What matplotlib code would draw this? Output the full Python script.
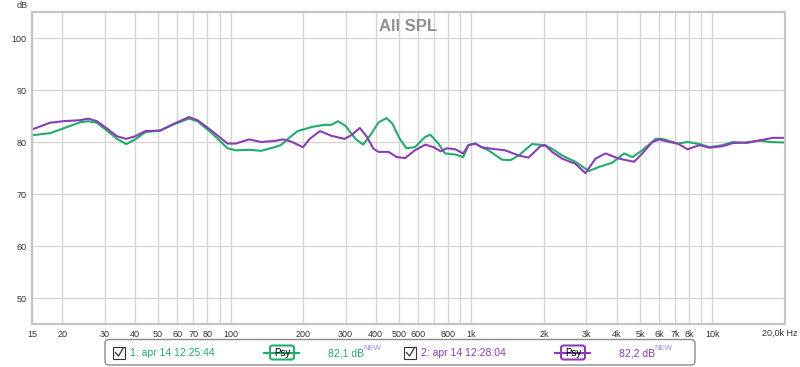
import matplotlib
matplotlib.use("Agg")
import matplotlib.pyplot as plt
from matplotlib.patches import FancyBboxPatch, Rectangle

plt.rcParams['font.family'] = ['Liberation Sans', 'DejaVu Sans']

# measurement 1 (green)
freq1 = [15, 17.8, 20.2, 23.8, 25.7, 27.9, 30.7, 33.8, 36.9, 40.2, 44.3, 51, 58.2,
         67.2, 72.9, 82.7, 97.2, 105, 119.5, 134, 152, 162, 173, 190, 218, 245, 262,
         279, 300, 330, 355, 380, 412, 444, 470, 504, 537, 582, 643, 675, 729, 776,
         856, 924, 971, 1038, 1101, 1177, 1337, 1449, 1570, 1783, 1995, 2159, 2377,
         2700, 3069, 3377, 3838, 4296, 4651, 5117, 5818, 6207, 6624, 7170, 7891, 8829,
         9715, 11040, 12150, 13800, 15700, 17270, 20000]
spl1 = [81.3, 81.7, 82.6, 83.8, 84.0, 83.7, 82.2, 80.6, 79.6, 80.5, 81.9, 82.2, 83.4,
        84.5, 84.0, 81.9, 78.8, 78.4, 78.5, 78.3, 79.0, 79.4, 80.6, 82.1, 82.9, 83.3,
        83.3, 84.0, 83.1, 80.6, 79.5, 81.3, 83.8, 84.6, 83.5, 80.6, 78.8, 79.0, 81.0,
        81.4, 79.7, 77.8, 77.6, 77.1, 79.4, 79.7, 79.0, 78.4, 76.6, 76.5, 77.4, 79.6,
        79.4, 78.7, 77.4, 76.2, 74.4, 75.2, 76.0, 77.8, 77.1, 78.4, 80.6, 80.6, 80.2,
        79.7, 80.0, 79.6, 79.0, 79.4, 80.0, 79.8, 80.3, 80.0, 79.9]

# measurement 2 (purple)
freq2 = [15, 17.8, 20.2, 23.8, 25.7, 27.9, 30.7, 33.8, 36.9, 40.2, 44.3, 51, 58.2,
         67.2, 72.9, 82.7, 97.2, 105, 119.5, 134, 152, 165, 178, 200, 213, 235, 262,
         297, 317, 344, 368, 392, 412, 453, 490, 530, 582, 643, 696, 746, 790, 856,
         924, 971, 1038, 1101, 1215, 1380, 1570, 1726, 1932, 2026, 2159, 2377, 2700,
         2973, 3270, 3600, 4092, 4726, 5117, 5634, 6010, 6624, 7170, 7891, 8829, 9715,
         11040, 12150, 13800, 15700, 17800, 20000]
spl2 = [82.4, 83.7, 84.0, 84.2, 84.5, 84.0, 82.6, 81.1, 80.6, 81.1, 82.1, 82.2, 83.5,
        84.8, 84.2, 82.3, 79.7, 79.7, 80.5, 80.0, 80.2, 80.5, 80.1, 79.0, 80.6, 82.1,
        81.2, 80.6, 81.3, 82.7, 81.0, 78.7, 78.1, 78.1, 77.1, 76.9, 78.4, 79.5, 79.0,
        78.2, 78.8, 78.6, 77.8, 79.4, 79.7, 79.0, 78.7, 78.4, 77.4, 77.0, 79.2, 79.4,
        78.1, 76.8, 75.8, 74.0, 76.8, 77.8, 76.8, 76.2, 77.8, 80.0, 80.5, 80.0, 79.7,
        78.6, 79.4, 78.9, 79.2, 79.8, 79.9, 80.3, 80.8, 80.8]

grid_freqs = [20, 30, 40, 50, 60, 70, 80, 90, 100, 200, 300, 400, 500, 600, 700, 800,
              900, 1000, 2000, 3000, 4000, 5000, 6000, 7000, 8000, 9000, 10000]
grid_labels = ['20', '30', '40', '50', '60', '70', '80', '', '100', '200', '300', '400',
               '500', '600', '', '800', '', '1k', '2k', '3k', '4k', '5k', '6k', '7k',
               '8k', '', '10k']
db_ticks = [50, 60, 70, 80, 90, 100]

green = '#1fae6b'
purple = '#8a3db6'

fig = plt.figure(figsize=(8, 3.67), dpi=100)
ax = fig.add_axes([32 / 800, 1 - 324 / 367, 753 / 800, 312 / 367])
ax.set_xscale('log')
ax.set_xlim(15, 20000)
ax.set_ylim(45, 105)

ax.set_xticks(grid_freqs + [15])
ax.set_xticklabels(grid_labels + ['15'])
ax.xaxis.set_minor_locator(plt.NullLocator())
ax.set_yticks(db_ticks)
ax.tick_params(length=0, labelsize=6.5, colors='#333333', pad=4)
ax.grid(True, color='#d6d6d6', linewidth=1)
ax.set_axisbelow(True)
for s in ax.spines.values():
    s.set_color('#c4c4c4')
    s.set_linewidth(1.6)

ax.plot(freq1, spl1, color=green, linewidth=1.5, solid_joinstyle='round')
ax.plot(freq2, spl2, color=purple, linewidth=1.5, solid_joinstyle='round')

ax.text(0.5, 0.955, 'All SPL', transform=ax.transAxes, ha='center', va='center',
        fontsize=12, fontweight='bold', color='#8f8f8f')

# overlay in pixel coordinates for the extra labels and the legend strip
ov = fig.add_axes([0, 0, 1, 1], zorder=5)
ov.set_xlim(0, 800)
ov.set_ylim(367, 0)
ov.axis('off')
ov.patch.set_alpha(0)

ov.text(22, 5, 'dB', fontsize=6.5, color='#333333', ha='center', va='center')
ov.text(797, 333, '20,0k Hz', fontsize=6.5, color='#333333', ha='right', va='center')

ov.add_patch(FancyBboxPatch((105, 339.5), 590, 25.5, boxstyle='round,pad=0,rounding_size=4',
                            facecolor='white', edgecolor='#8a8a8a', linewidth=1))

entries = [
    (113, '1: apr 14 12:25:44', 282, '82,1 dB', 328, green),
    (404, '2: apr 14 12:28:04', 573, '82,2 dB', 619, purple),
]
for cx, label, px, value, vx, col in entries:
    ov.add_patch(Rectangle((cx, 346.5), 12, 12, facecolor='white',
                           edgecolor='#333333', linewidth=0.8))
    ov.plot([cx + 2.5, cx + 5.5, cx + 10], [352.5, 356, 348.5], color='#333333', linewidth=0.9)
    ov.text(cx + 17, 353, label, fontsize=7.5, color=col, ha='left', va='center')
    ov.plot([px - 18, px + 17], [352.5, 352.5], color=col, linewidth=1.5)
    ov.add_patch(FancyBboxPatch((px - 12, 345.5), 24, 14, boxstyle='round,pad=0,rounding_size=2.5',
                                facecolor='white', edgecolor=col, linewidth=1.5))
    ov.text(px, 352.5, 'Psy', fontsize=7, color='black', ha='center', va='center')
    ov.text(vx, 353, value, fontsize=7.5, color=col, ha='left', va='center')
    ov.text(vx + 35, 348.5, 'NEW', fontsize=5.5, color='#8c8cf5', ha='left', va='center')

fig.savefig('out.png', dpi=100)
